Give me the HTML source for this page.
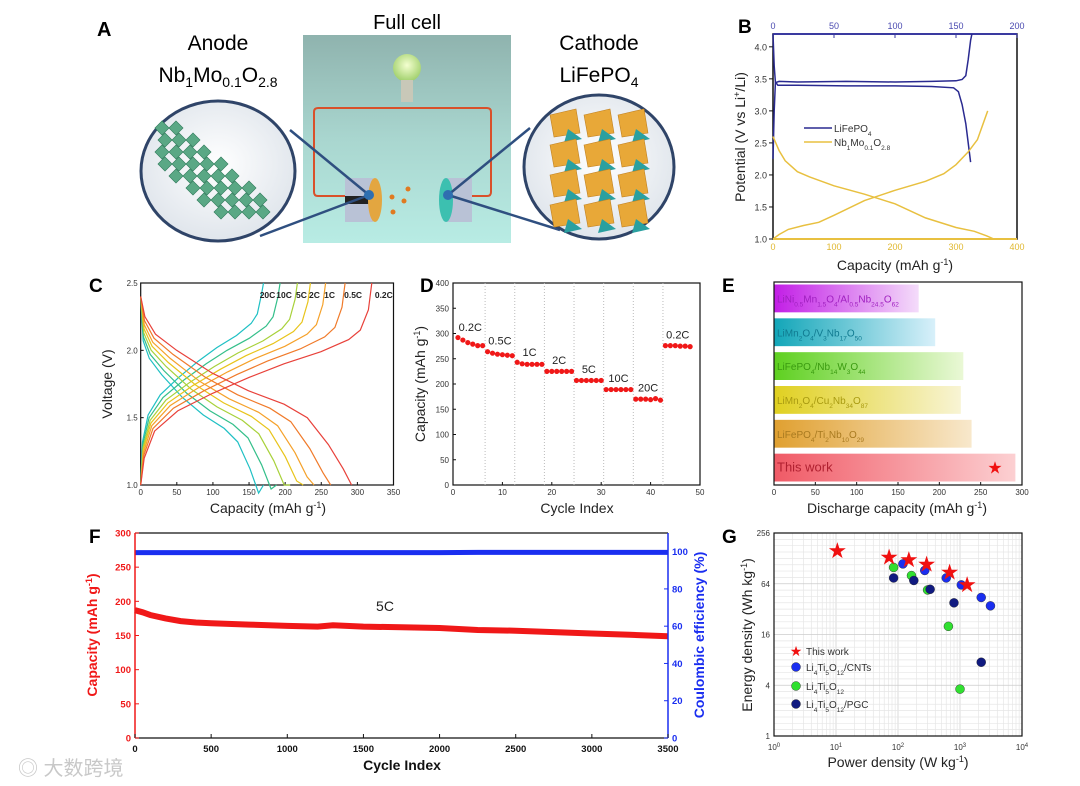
<!DOCTYPE html>
<html><head><meta charset="utf-8"><style>
html,body{margin:0;padding:0;background:#fff;}
svg{display:block;font-family:"Liberation Sans",Arial,sans-serif;}
</style></head><body>
<svg id="fig" width="1080" height="786" viewBox="0 0 1080 786" xmlns="http://www.w3.org/2000/svg">
<defs>
<linearGradient id="cellbg" x1="0" y1="0" x2="0" y2="1"><stop offset="0" stop-color="#8fb3ae"/><stop offset="0.5" stop-color="#a9d6cf"/><stop offset="1" stop-color="#b8ece4"/></linearGradient>
<radialGradient id="circbg" cx="0.5" cy="0.45" r="0.6"><stop offset="0" stop-color="#ffffff"/><stop offset="1" stop-color="#dde3ea"/></radialGradient>
<radialGradient id="bulb" cx="0.5" cy="0.4" r="0.6"><stop offset="0" stop-color="#f4ffd0"/><stop offset="1" stop-color="#9fcf6a"/></radialGradient>
<linearGradient id="g0" x1="0" x2="1"><stop offset="0" stop-color="#c21ee6"/><stop offset="1" stop-color="#f4dcfa"/></linearGradient>
<linearGradient id="g1" x1="0" x2="1"><stop offset="0" stop-color="#12a6b8"/><stop offset="1" stop-color="#d8f0fa"/></linearGradient>
<linearGradient id="g2" x1="0" x2="1"><stop offset="0" stop-color="#5ed020"/><stop offset="1" stop-color="#eaf8d6"/></linearGradient>
<linearGradient id="g3" x1="0" x2="1"><stop offset="0" stop-color="#e0d020"/><stop offset="1" stop-color="#f8f4d4"/></linearGradient>
<linearGradient id="g4" x1="0" x2="1"><stop offset="0" stop-color="#e0a030"/><stop offset="1" stop-color="#f8e8cc"/></linearGradient>
<linearGradient id="g5" x1="0" x2="1"><stop offset="0" stop-color="#f05a66"/><stop offset="1" stop-color="#fcd0d2"/></linearGradient>
</defs>

<!-- Panel A -->
<g>
<text x="97" y="36" font-size="20" font-weight="bold">A</text>
<rect x="303" y="35" width="208" height="208" fill="url(#cellbg)"/>
<text x="407" y="29" font-size="20" text-anchor="middle">Full cell</text>
<text x="218" y="50" font-size="21" text-anchor="middle">Anode</text>
<text x="218" y="82" font-size="21" text-anchor="middle">Nb<tspan font-size="14" dy="5">1</tspan><tspan dy="-5">Mo</tspan><tspan font-size="14" dy="5">0.1</tspan><tspan dy="-5">O</tspan><tspan font-size="14" dy="5">2.8</tspan></text>
<text x="599" y="50" font-size="21" text-anchor="middle">Cathode</text>
<text x="599" y="82" font-size="21" text-anchor="middle">LiFePO<tspan font-size="14" dy="5">4</tspan></text>
<circle cx="407" cy="68" r="14" fill="url(#bulb)"/>
<rect x="401" y="80" width="12" height="22" fill="#c8c8b8"/>
<path d="M345 196 L318 196 Q314 196 314 192 L314 112 Q314 108 318 108 L487 108 Q491 108 491 112 L491 192 Q491 196 487 196 L470 196" fill="none" stroke="#d9502a" stroke-width="2"/>
<rect x="345" y="178" width="28" height="44" fill="#b9c2d6"/>
<rect x="345" y="196" width="28" height="8" fill="#222"/>
<ellipse cx="375" cy="200" rx="7" ry="22" fill="#e3a640"/>
<rect x="446" y="178" width="26" height="44" fill="#b9c2d6"/>
<ellipse cx="446" cy="200" rx="7" ry="22" fill="#3cc0b0"/>
<circle cx="392" cy="197" r="2.5" fill="#e07a20"/><circle cx="408" cy="189" r="2.5" fill="#e07a20"/><circle cx="404" cy="201" r="2.5" fill="#e07a20"/><circle cx="393" cy="212" r="2.5" fill="#e07a20"/>
<line x1="369" y1="195" x2="290" y2="130" stroke="#2f4f80" stroke-width="2.5"/>
<line x1="369" y1="195" x2="260" y2="236" stroke="#2f4f80" stroke-width="2.5"/>
<line x1="448" y1="195" x2="530" y2="128" stroke="#2f4f80" stroke-width="2.5"/>
<line x1="448" y1="195" x2="560" y2="230" stroke="#2f4f80" stroke-width="2.5"/>
<circle cx="369" cy="195" r="5" fill="#2f6fb0"/><circle cx="448" cy="195" r="5" fill="#2f6fb0"/>
<ellipse cx="218" cy="171" rx="77" ry="70" fill="url(#circbg)" stroke="#2f4468" stroke-width="3"/>
<g id="anodeLattice"></g>
<ellipse cx="599" cy="167" rx="75" ry="72" fill="url(#circbg)" stroke="#2f4468" stroke-width="3"/>
<g id="cathodeLattice"></g>
</g>

<!-- panel letters -->
<text x="738" y="33" font-size="19" font-weight="bold">B</text>
<text x="89" y="292" font-size="19" font-weight="bold">C</text>
<text x="420" y="292" font-size="19" font-weight="bold">D</text>
<text x="722" y="292" font-size="19" font-weight="bold">E</text>
<text x="89" y="543" font-size="19" font-weight="bold">F</text>
<text x="722" y="543" font-size="19" font-weight="bold">G</text>
<text x="18" y="775" font-size="20" fill="#c8c8c8" font-family="'Liberation Sans','Noto Sans CJK SC',sans-serif">◎ 大数跨境</text>
</svg>
<script>
// ===== Panel B data =====
const bLfpChgCap=[0,1,2,5,20,60,100,130,150,155,158,160,162,163];
const bLfpChgV=[2.25,3.0,3.44,3.46,3.45,3.46,3.45,3.46,3.47,3.49,3.55,3.8,4.1,4.2];
const bLfpDisCap=[0,1,2,4,20,60,100,130,148,152,155,158,160,162];
const bLfpDisV=[4.2,3.7,3.45,3.40,3.40,3.39,3.39,3.38,3.36,3.3,3.1,2.8,2.5,2.2];
const bNbDisCap=[0,10,20,40,60,100,150,200,250,300,330,350,362];
const bNbDisV=[2.6,2.38,2.22,2.05,1.97,1.83,1.7,1.55,1.33,1.18,1.12,1.05,1.0];
const bNbChgCap=[0,10,25,50,75,100,150,200,250,280,300,320,335,352];
const bNbChgV=[1.0,1.07,1.15,1.21,1.26,1.37,1.6,1.76,1.9,2.02,2.16,2.36,2.55,3.0];
const bYTicks=[1.0,1.5,2.0,2.5,3.0,3.5,4.0];
const bXTicks=[0,100,200,300,400];
const bTopTicks=[0,50,100,150,200];
// ===== Panel C data =====
const cRates=['0.2C','0.5C','1C','2C','5C','10C','20C'];
const cColors=['#e8413a','#f07a2a','#f5a12a','#e8c41a','#a8d13a','#34bf8a','#1fc0c4'];
const cDisCap=[292,263,240,225,207,188,170];
const cChgCap=[320,283,256,235,217,193,170];
const cDisFrac=[0,0.02,0.07,0.17,0.34,0.51,0.68,0.79,0.89,0.96,1.0];
const cDisV=[2.4,2.25,2.12,2.0,1.83,1.7,1.6,1.5,1.3,1.12,1.0];
const cChgFrac=[0,0.015,0.06,0.16,0.31,0.47,0.62,0.78,0.9,0.95,0.985,1.0];
const cChgV=[1.0,1.2,1.4,1.55,1.68,1.8,1.9,1.99,2.08,2.15,2.3,2.5];
const cXTicks=[0,50,100,150,200,250,300,350];
const cYTicks=[1.0,1.5,2.0,2.5];
// ===== Panel D data =====
const dCap=[292,287,282,279,276,276,264,261,259,258,257,256,243,240,239,239,239,239,225,225,225,225,225,225,207,207,207,207,207,207,189,189,189,189,189,189,170,170,170,169,171,168,276,276,276,275,275,274];
const dRateLabels=['0.2C','0.5C','1C','2C','5C','10C','20C','0.2C'];
const dLabelCap=[305,278,255,240,222,204,185,290];
const dXTicks=[0,10,20,30,40,50];
const dYTicks=[0,50,100,150,200,250,300,350,400];
// ===== Panel E data =====
const eLabels=['LiNi{0.5}Mn{1.5}O{4}/Al{0.5}Nb{24.5}O{62}','LiMn{2}O{4}/V{3}Nb{17}O{50}','LiFePO{4}/Nb{14}W{3}O{44}','LiMn{2}O{4}/Cu{2}Nb{34}O{87}','LiFePO{4}/Ti{2}Nb{10}O{29}','This work'];
const eValues=[175,195,229,226,239,292];
const eTextColors=['#a020c0','#107a90','#3a9a10','#a89a10','#a87a20','#b02030'];
const eXTicks=[0,50,100,150,200,250,300];
// ===== Panel F data =====
const fCycles=[0,50,100,200,300,400,500,750,1000,1200,1300,1500,1750,2000,2250,2500,2750,3000,3250,3500];
const fCapacity=[187,184,180,175,171,169,168,166,164,163,165,163,162,161,158,157,155,153,151,149];
const fCE=[99.5,99.5,99.5,99.5,99.5,99.5,99.5,99.5,99.5,99.5,99.5,99.5,99.5,99.5,99.6,99.6,99.6,99.6,99.6,99.6];
const fXTicks=[0,500,1000,1500,2000,2500,3000,3500];
const fYTicks=[0,50,100,150,200,250,300];
const fY2Ticks=[0,20,40,60,80,100];
// ===== Panel G data =====
const gStarP=[10.5,72,150,290,680,1300];
const gStarE=[160,135,125,112,90,64];
const gCntP=[120,270,600,1050,2200,3100];
const gCntE=[110,92,75,62,44,35];
const gLtoP=[85,165,300,650,1000];
const gLtoE=[100,80,54,20,3.6];
const gPgcP=[85,180,330,800,2200];
const gPgcE=[75,70,55,38,7.5];
const gYTicks=[1,4,16,64,256];
const gXExp=[0,1,2,3,4];

const NS='http://www.w3.org/2000/svg';
const svg=document.getElementById('fig');
function el(tag,attrs,parent){const e=document.createElementNS(NS,tag);for(const k in attrs)e.setAttribute(k,attrs[k]);(parent||svg).appendChild(e);return e;}
function txt(x,y,s,size,anchor,fill,extra){const t=el('text',Object.assign({x:x,y:y,'font-size':size,'text-anchor':anchor||'middle',fill:fill||'#222'},extra||{}));t.textContent=s;return t;}
function poly(xs,ys,fx,fy){return xs.map((v,i)=>fx(v).toFixed(1)+','+fy(ys[i]).toFixed(1)).join(' ');}
function subText(x,y,str,size,fill,parent){const t=el('text',{x:x,y:y,'font-size':size,fill:fill},parent);const parts=str.split(/\{([^}]*)\}/);parts.forEach((p,i)=>{if(!p)return;const s=el('tspan',i%2?{'font-size':size*0.65,'baseline-shift':'sub'}:{},t);s.textContent=p;});return t;}

// ===== Panel A decorations =====
(function(){
  const g=document.getElementById('anodeLattice');
  for(let r=0;r<8;r++){for(let c=0;c<8;c++){
    if(Math.abs(r-c-1)>2.5)continue;
    const cx=162+c*14+ (r%2)*3, cy=128+r*12;
    const d=el('rect',{x:cx-5,y:cy-5,width:10,height:10,fill:'#5aa885',stroke:'#2e7a5a','stroke-width':0.6,transform:'rotate(45 '+cx+' '+cy+')'},g);
    
    
  }}
  const h=document.getElementById('cathodeLattice');
  for(let r=0;r<4;r++){for(let c=0;c<3;c++){
    const x=550+c*34, y=115+r*30;
    const p=el('polygon',{points:(x)+','+(y)+' '+(x+26)+','+(y-6)+' '+(x+30)+','+(y+18)+' '+(x+4)+','+(y+22),fill:'#e8a838',stroke:'#c08020','stroke-width':0.6},h);
    
    
    const q=el('polygon',{points:(x+18)+','+(y+14)+' '+(x+32)+','+(y+24)+' '+(x+14)+','+(y+28),fill:'#2aa0a0'},h);
    
    
  }}
})();

// ===== Panel B =====
(function(){
  const X0=773,X1=1017,Y0=239,Y1=34;
  const xB=c=>X0+c/400*(X1-X0), xT=c=>X0+c/200*(X1-X0), yB=v=>Y0-(v-1)/3.2*(Y0-Y1);
  const frame=el('rect',{x:X0,y:Y1,width:X1-X0,height:Y0-Y1,fill:'none',stroke:'#111','stroke-width':1.5});
  
  
  el('line',{x1:X0,y1:Y1,x2:X1,y2:Y1,stroke:'#3a3aa0','stroke-width':2});
  el('line',{x1:X0,y1:Y0,x2:X1,y2:Y0,stroke:'#e8c040','stroke-width':2});
  bYTicks.forEach(v=>{el('line',{x1:X0-4,y1:yB(v),x2:X0,y2:yB(v),stroke:'#111'});const t=txt(X0-6,yB(v)+3.5,v.toFixed(1),9,'end','#333');});
  bXTicks.forEach(v=>{const t=txt(xB(v),250,String(v),9,'middle','#e0b830');});
  bTopTicks.forEach(v=>{el('line',{x1:xT(v),y1:Y1,x2:xT(v),y2:Y1+4,stroke:'#3a3aa0'});const t=txt(xT(v),29,String(v),9,'middle','#4a4ab0');});
  const l1=el('polyline',{points:poly(bLfpChgCap,bLfpChgV,xT,yB),fill:'none',stroke:'#2a2a90','stroke-width':1.5});
  
  
  const l2=el('polyline',{points:poly(bLfpDisCap,bLfpDisV,xT,yB),fill:'none',stroke:'#2a2a90','stroke-width':1.5});
  
  
  const l3=el('polyline',{points:poly(bNbDisCap,bNbDisV,xB,yB),fill:'none',stroke:'#e8c040','stroke-width':1.5});
  
  
  const l4=el('polyline',{points:poly(bNbChgCap,bNbChgV,xB,yB),fill:'none',stroke:'#e8c040','stroke-width':1.5});
  
  
  el('line',{x1:804,y1:128,x2:832,y2:128,stroke:'#2a2a90','stroke-width':1.5});
  const lg1=subText(834,132,'LiFePO{4}',10,'#333');
  
  
  el('line',{x1:804,y1:142,x2:832,y2:142,stroke:'#e8c040','stroke-width':1.5});
  const lg2=subText(834,146,'Nb{1}Mo{0.1}O{2.8}',10,'#333');
  
  
  const yl=el('text',{x:0,y:0,'font-size':14,'text-anchor':'middle',transform:'translate(745,137) rotate(-90)',fill:'#222'});
  yl.innerHTML='Potential (V vs Li<tspan font-size="9" baseline-shift="super">+</tspan>/Li)';
  
  
  const xl=el('text',{x:895,y:270,'font-size':14,'text-anchor':'middle',fill:'#222'});
  xl.innerHTML='Capacity (mAh g<tspan font-size="9" baseline-shift="super">-1</tspan>)';
  
  
})();

// ===== Panel C =====
(function(){
  const X0=140.7,X1=393.5,Y0=485,Y1=283;
  const xC=c=>X0+c/350*(X1-X0), yC=v=>Y0-(v-1)/1.5*(Y0-Y1);
  const f=el('rect',{x:X0,y:Y1,width:X1-X0,height:Y0-Y1,fill:'none',stroke:'#111','stroke-width':1.2});
  
  
  cXTicks.forEach(v=>{el('line',{x1:xC(v),y1:Y0,x2:xC(v),y2:Y0-3,stroke:'#111'});const t=txt(xC(v),495,String(v),8,'middle','#333');});
  cYTicks.forEach(v=>{el('line',{x1:X0,y1:yC(v),x2:X0+3,y2:yC(v),stroke:'#111'});const t=txt(X0-3,yC(v)+3,v.toFixed(1),8,'end','#333');});
  for(let i=cRates.length-1;i>=0;i--){
    const d=el('polyline',{points:cDisFrac.map((fr,k)=>xC(fr*cDisCap[i]).toFixed(1)+','+yC(cDisV[k]-i*0.03*(k>0&&k<cDisV.length-1?1:0)).toFixed(1)).join(' '),fill:'none',stroke:cColors[i],'stroke-width':1.2});
    
    
    const c=el('polyline',{points:cChgFrac.map((fr,k)=>xC(fr*cChgCap[i]).toFixed(1)+','+yC(cChgV[k]+i*0.02*(k>0&&k<cChgV.length-1?1:0)).toFixed(1)).join(' '),fill:'none',stroke:cColors[i],'stroke-width':1.2});
    
    
    const lb=txt(xC(cChgCap[i])+(i==0?12:i==1?8:4),298,cRates[i],8.5,'middle','#222',{'font-weight':'bold'});
    
    
  }
  const yl=txt(0,0,'Voltage (V)',14,'middle','#222',{transform:'translate(112,384) rotate(-90)'});
  
  
  const xl=el('text',{x:268,y:513,'font-size':14,'text-anchor':'middle',fill:'#222'});
  xl.innerHTML='Capacity (mAh g<tspan font-size="9" baseline-shift="super">-1</tspan>)';
  
  
})();

// ===== Panel D =====
(function(){
  const X0=453,X1=700,Y0=485,Y1=283;
  const xD=c=>X0+c/50*(X1-X0), yD=v=>Y0-v/400*(Y0-Y1);
  const f=el('rect',{x:X0,y:Y1,width:X1-X0,height:Y0-Y1,fill:'none',stroke:'#111','stroke-width':1.2});
  
  
  for(let k=1;k<=7;k++){el('line',{x1:xD(k*6+0.5),y1:Y1,x2:xD(k*6+0.5),y2:Y0,stroke:'#bbb','stroke-dasharray':'1,2'});}
  dXTicks.forEach(v=>{el('line',{x1:xD(v),y1:Y0,x2:xD(v),y2:Y0-3,stroke:'#111'});const t=txt(xD(v),495,String(v),8,'middle','#333');});
  dYTicks.forEach(v=>{el('line',{x1:X0,y1:yD(v),x2:X0+3,y2:yD(v),stroke:'#111'});const t=txt(X0-4,yD(v)+3,String(v),8,'end','#333');});
  dCap.forEach((v,i)=>{const c=el('circle',{cx:xD(i+1),cy:yD(v),r:2.6,fill:'#f01818'});});
  dRateLabels.forEach((s,k)=>{const t=txt(xD(k*6+3.5),yD(dLabelCap[k]),s,11,'middle','#222');});
  const yl=el('text',{x:0,y:0,'font-size':14,'text-anchor':'middle',fill:'#222',transform:'translate(425,384) rotate(-90)'});
  yl.innerHTML='Capacity (mAh g<tspan font-size="9" baseline-shift="super">-1</tspan>)';
  
  
  const xl=txt(577,513,'Cycle Index',14,'middle','#222');
  
  
})();

// ===== Panel E =====
(function(){
  const X0=774,X1=1022,Y0=485,Y1=282;
  const xE=v=>X0+v/300*(X1-X0);
  const slot=(Y0-Y1)/eValues.length;
  eValues.forEach((v,i)=>{
    const y=Y1+i*slot+2.5;
    const b=el('rect',{x:X0,y:y,width:xE(v)-X0,height:slot-6,fill:'url(#g'+i+')'});
    
    
    const t=subText(X0+3,y+(slot-6)/2+4,eLabels[i],i==5?13:10,eTextColors[i]);
    
    
  });
  const st=txt(995,y0star(),'★',17,'middle','#f01010');
  function y0star(){return Y1+5*slot+2.5+(slot-6)/2+6;}
  
  
  const f=el('rect',{x:X0,y:Y1,width:X1-X0,height:Y0-Y1,fill:'none',stroke:'#111','stroke-width':1.2});
  
  
  eXTicks.forEach(v=>{el('line',{x1:xE(v),y1:Y0,x2:xE(v),y2:Y0-3,stroke:'#111'});const t=txt(xE(v),495,String(v),8,'middle','#333');});
  const xl=el('text',{x:897,y:513,'font-size':14,'text-anchor':'middle',fill:'#222'});
  xl.innerHTML='Discharge capacity (mAh g<tspan font-size="9" baseline-shift="super">-1</tspan>)';
  
  
})();

// ===== Panel F =====
(function(){
  const X0=135,X1=668,Y0=738,Y1=533;
  const xF=c=>X0+c/3500*(X1-X0), yF=v=>Y0-v/300*(Y0-Y1), yR=v=>Y0-v/110*(Y0-Y1);
  const ce=el('polyline',{points:poly(fCycles,fCE,xF,yR),fill:'none',stroke:'#1a2ef0','stroke-width':5});
  
  
  const cap=el('polyline',{points:poly(fCycles,fCapacity,xF,yF),fill:'none',stroke:'#f01818','stroke-width':6});
  
  
  el('line',{x1:X0,y1:Y1,x2:X1,y2:Y1,stroke:'#111','stroke-width':1.2});
  el('line',{x1:X0,y1:Y0,x2:X1,y2:Y0,stroke:'#111','stroke-width':1.2});
  el('line',{x1:X0,y1:Y1,x2:X0,y2:Y0,stroke:'#f01818','stroke-width':1.5});
  el('line',{x1:X1,y1:Y1,x2:X1,y2:Y0,stroke:'#1a2ef0','stroke-width':1.5});
  fXTicks.forEach(v=>{el('line',{x1:xF(v),y1:Y0,x2:xF(v),y2:Y0-4,stroke:'#111'});const t=txt(xF(v),752,String(v),9.5,'middle','#111',{'font-weight':'bold'});});
  fYTicks.forEach(v=>{el('line',{x1:X0,y1:yF(v),x2:X0+4,y2:yF(v),stroke:'#f01818'});const t=txt(X0-4,yF(v)+3.5,String(v),9.5,'end','#f01818',{'font-weight':'bold'});});
  fY2Ticks.forEach(v=>{el('line',{x1:X1,y1:yR(v),x2:X1-4,y2:yR(v),stroke:'#1a2ef0'});const t=txt(X1+4,yR(v)+3.5,String(v),9.5,'start','#1a2ef0',{'font-weight':'bold'});});
  const lab=txt(385,611,'5C',14,'middle','#222');
  
  
  const yl=el('text',{x:0,y:0,'font-size':14,'font-weight':'bold','text-anchor':'middle',fill:'#f01818',transform:'translate(97,635) rotate(-90)'});
  yl.innerHTML='Capacity (mAh g<tspan font-size="9" baseline-shift="super">-1</tspan>)';
  
  
  const yr=txt(0,0,'Coulombic efficiency (%)',14,'middle','#1a2ef0',{'font-weight':'bold',transform:'translate(704,635) rotate(-90)'});
  
  
  const xl=txt(402,770,'Cycle Index',14,'middle','#111',{'font-weight':'bold'});
  
  
})();

// ===== Panel G =====
(function(){
  const X0=774,X1=1022,Y0=736,Y1=533;
  const xG=p=>X0+Math.log10(p)/4*(X1-X0), yG=e=>Y0-Math.log2(e)/8*(Y0-Y1);
  for(let d=0;d<4;d++){for(let m=1;m<10;m++){const x=xG(Math.pow(10,d)*m);el('line',{x1:x,y1:Y1,x2:x,y2:Y0,stroke:m==1?'#ccc':'#e6e6e6','stroke-width':0.7});}}
  for(let k=0;k<=32;k++){const y=Y0-k/32*(Y0-Y1);el('line',{x1:X0,y1:y,x2:X1,y2:y,stroke:k%8==0?'#ccc':'#e6e6e6','stroke-width':0.7});}
  const f=el('rect',{x:X0,y:Y1,width:X1-X0,height:Y0-Y1,fill:'none',stroke:'#111','stroke-width':1.2});
  
  
  gYTicks.forEach(v=>{const t=txt(X0-4,yG(v)+3,String(v),8,'end','#333');});
  gXExp.forEach(e=>{const t=el('text',{x:xG(Math.pow(10,e)),y:750,'font-size':8,'text-anchor':'middle',fill:'#333'});t.innerHTML='10<tspan font-size="6" baseline-shift="super">'+e+'</tspan>';});
  function ball(x,y,c,name){const b=el('circle',{cx:x,cy:y,r:4.5,fill:c,stroke:'#222','stroke-width':0.4});}
  gLtoP.forEach((p,i)=>ball(xG(p),yG(gLtoE[i]),'#30e030','g-lto-point'));
  gPgcP.forEach((p,i)=>ball(xG(p),yG(gPgcE[i]),'#101a80','g-pgc-point'));
  gCntP.forEach((p,i)=>ball(xG(p),yG(gCntE[i]),'#1a2ef0','g-cnt-point'));
  gStarP.forEach((p,i)=>{const s=txt(xG(p),yG(gStarE[i])+8,'★',22,'middle','#f01010');});
  const lgS=txt(796,656,'★',14,'middle','#f01010');
  const l0=txt(806,655,'This work',10,'start','#333');
  ball(796,667,'#1a2ef0','g-legend-cnt-marker');
  const l1=subText(806,671,'Li{4}Ti{5}O{12}/CNTs',10,'#333');
  ball(796,686,'#30e030','g-legend-lto-marker');
  const l2=subText(806,690,'Li{4}Ti{5}O{12}',10,'#333');
  ball(796,704,'#101a80','g-legend-pgc-marker');
  const l3=subText(806,708,'Li{4}Ti{5}O{12}/PGC',10,'#333');
  const yl=el('text',{x:0,y:0,'font-size':14,'text-anchor':'middle',fill:'#222',transform:'translate(752,635) rotate(-90)'});
  yl.innerHTML='Energy density (Wh kg<tspan font-size="9" baseline-shift="super">-1</tspan>)';
  
  
  const xl=el('text',{x:898,y:767,'font-size':14,'text-anchor':'middle',fill:'#222'});
  xl.innerHTML='Power density (W kg<tspan font-size="9" baseline-shift="super">-1</tspan>)';
  
  
})();
</script>
</body></html>
